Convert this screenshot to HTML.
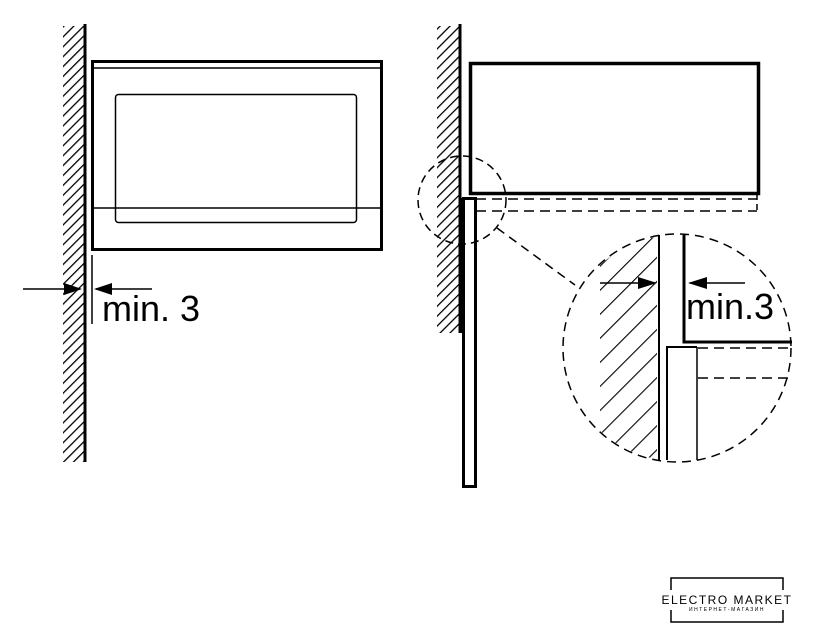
<!DOCTYPE html>
<html><head><meta charset="utf-8"><style>body{margin:0;background:#fff}svg{display:block}</style></head><body>
<svg width="828" height="640" viewBox="0 0 828 640" xmlns="http://www.w3.org/2000/svg">
<defs>
<pattern id="h" width="7" height="7" patternUnits="userSpaceOnUse" patternTransform="rotate(45)">
<line x1="0" y1="0" x2="0" y2="7" stroke="#000" stroke-width="2.6"/>
</pattern>
<pattern id="h2" width="17" height="17" patternUnits="userSpaceOnUse" patternTransform="rotate(45)">
<line x1="0" y1="0" x2="0" y2="17" stroke="#000" stroke-width="2.2"/>
</pattern>
<clipPath id="bc"><circle cx="677" cy="348" r="113"/></clipPath>
</defs>
<g fill="none" stroke="#000">
<rect x="63" y="26" width="21" height="436" fill="url(#h)" stroke="none"/>
<line x1="85" y1="24" x2="85" y2="462" stroke-width="3"/>
<rect x="92.5" y="61.5" width="289" height="188" stroke-width="3"/>
<line x1="93" y1="68" x2="381" y2="68" stroke-width="1.5"/>
<rect x="115.5" y="94.5" width="241" height="128" rx="3" stroke-width="1.5"/>
<line x1="93" y1="208" x2="381" y2="208" stroke-width="1.5"/>
<line x1="23" y1="289" x2="80" y2="289" stroke-width="1.5"/>
<polygon points="82,289 64,283 64,295" fill="#000" stroke="none"/>
<line x1="96" y1="289" x2="152" y2="289" stroke-width="1.5"/>
<polygon points="94,289 112,283 112,295" fill="#000" stroke="none"/>
<line x1="92" y1="255" x2="92" y2="324" stroke-width="1.5"/>
<rect x="437" y="26" width="22" height="307" fill="url(#h)" stroke="none"/>
<line x1="460" y1="24" x2="460" y2="333" stroke-width="3"/>
<rect x="470.5" y="63.5" width="288" height="130" stroke-width="3.5"/>
<rect x="463.5" y="198.5" width="12" height="288" stroke-width="3"/>
<line x1="463" y1="198" x2="463" y2="333" stroke-width="4"/>
<line x1="476" y1="199" x2="757" y2="199" stroke-width="1.5" stroke-dasharray="10,6"/>
<line x1="476" y1="211" x2="757" y2="211" stroke-width="1.5" stroke-dasharray="10,6"/>
<line x1="757" y1="194" x2="757" y2="211" stroke-width="1.5" stroke-dasharray="6,4"/>
<circle cx="462" cy="200" r="44" stroke-width="1.5" stroke-dasharray="8,5"/>
<line x1="497" y1="228" x2="575" y2="285" stroke-width="1.5" stroke-dasharray="9,6"/>
<g clip-path="url(#bc)">
<rect x="600" y="235" width="57" height="230" fill="url(#h2)" stroke="none"/>
</g>
<line x1="659" y1="235" x2="659" y2="460" stroke-width="2"/>
<polyline points="667,460 667,347 697,347" stroke-width="2"/>
<line x1="697" y1="347" x2="697" y2="460" stroke-width="1.5"/>
<polyline points="684,235 684,342 792,342" stroke-width="3"/>
<line x1="698" y1="348" x2="790" y2="348" stroke-width="1.5" stroke-dasharray="10,6"/>
<line x1="698" y1="378" x2="790" y2="378" stroke-width="1.5" stroke-dasharray="10,6"/>
<line x1="600" y1="283" x2="655" y2="283" stroke-width="1.5"/>
<polygon points="657,283 638,277 638,289" fill="#000" stroke="none"/>
<line x1="690" y1="283" x2="745" y2="283" stroke-width="1.5"/>
<polygon points="688,283 707,277 707,289" fill="#000" stroke="none"/>
<circle cx="677" cy="348" r="114" stroke-width="1.5" stroke-dasharray="9,6"/>
<polyline points="671,590 671,578 783,578 783,590" stroke-width="1.5"/>
<polyline points="671,610 671,622 783,622 783,610" stroke-width="1.5"/>
</g>
<g font-family="Liberation Sans, sans-serif" fill="#000">
<text x="102" y="321" font-size="36">min. 3</text>
<text x="686" y="319" font-size="36">min.3</text>
<text x="727" y="604" font-size="12" text-anchor="middle" letter-spacing="1.5">ELECTRO MARKET</text>
<text x="727" y="611" font-size="5" text-anchor="middle" letter-spacing="1.5">ИНТЕРНЕТ-МАГАЗИН</text>
</g>
</svg>
</body></html>
